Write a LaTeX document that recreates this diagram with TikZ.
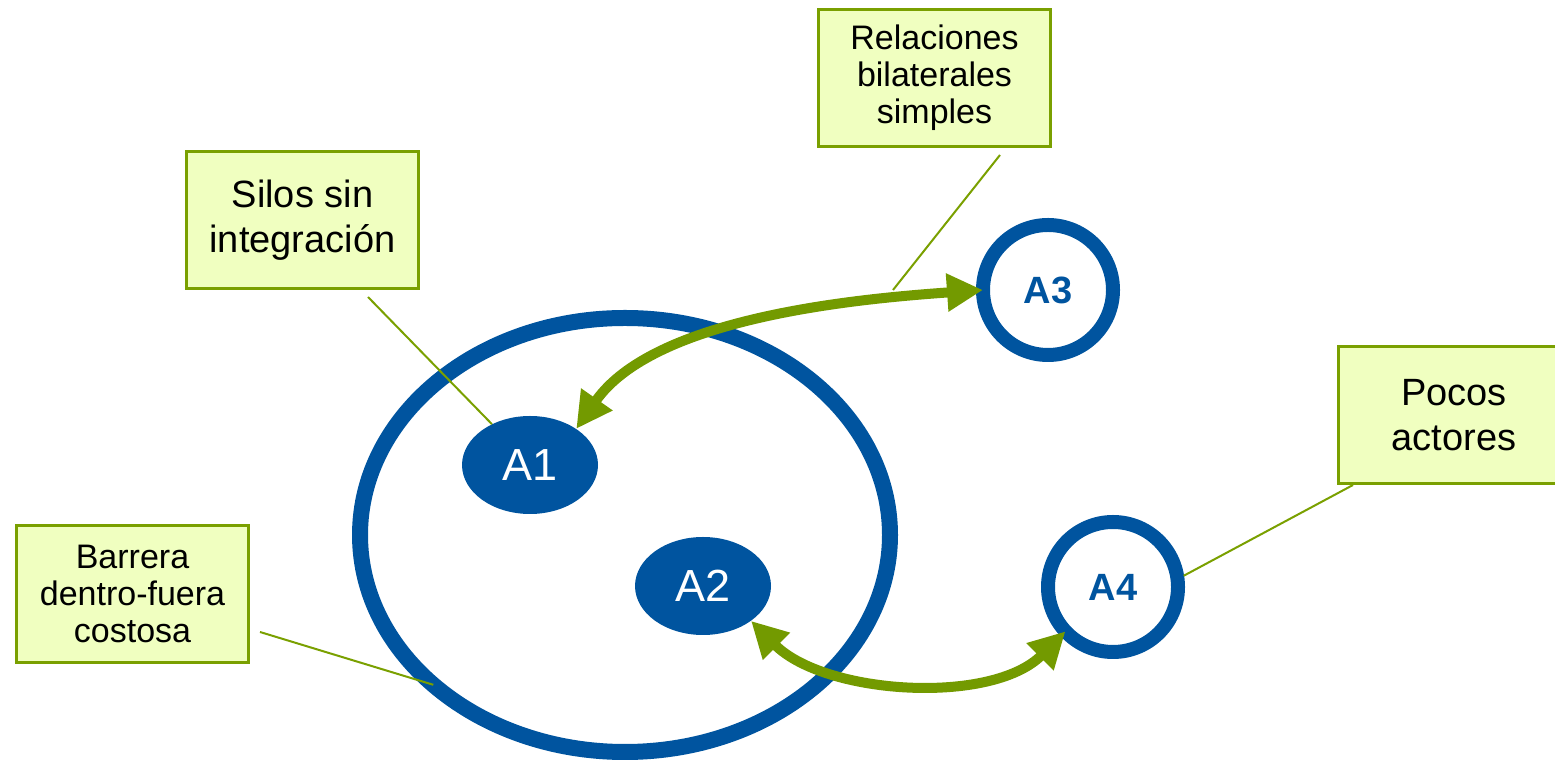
\documentclass[tikz,border=0pt]{standalone}
\usepackage{fontspec}
\setmainfont{Liberation Sans}
\usetikzlibrary{arrows.meta,shapes.geometric}
\definecolor{blueA}{RGB}{0,84,159}
\definecolor{arrowG}{RGB}{115,154,0}
\definecolor{lineG}{RGB}{122,160,0}
\definecolor{noteFill}{RGB}{240,255,192}
\begin{document}
\begin{tikzpicture}[x=1pt,y=1pt,
    note/.style={draw=lineG, fill=noteFill, line width=3pt, minimum width=232pt, minimum height=137pt, inner sep=0pt, align=center},
    bigfont/.style={font=\fontsize{38}{45}\selectfont},
    smallfont/.style={font=\fontsize{34}{37}\selectfont},
    actor/.style={ellipse, fill=blueA, text=white, minimum width=136pt, minimum height=98pt, inner sep=0pt, font=\fontsize{45}{50}\selectfont},
    outside/.style={circle, draw=blueA, line width=14pt, minimum size=130pt, inner sep=0pt, outer sep=0pt, text=blueA, font=\bfseries\fontsize{38}{40}\selectfont},
    callout/.style={draw=lineG, line width=2pt},
    biarrow/.style={draw=arrowG, line width=10pt, <->, >={Triangle[length=36pt,width=36pt]}}]
    \useasboundingbox (0,0) rectangle (1555,762);
    \node[ellipse, draw=blueA, line width=16pt, minimum width=530pt, minimum height=434pt, inner sep=0pt, outer sep=0pt] (barrier) at (625,227) {};
    \node[actor] (a1) at (530,297) {A1};
    \node[actor] (a2) at (703,176) {A2};
    \node[outside] (a3) at (1048,472) {A3};
    \node[outside] (a4) at (1113,175) {A4};
    \node[note, smallfont] (relaciones) at (934.5,684) {Relaciones\\bilaterales\\simples};
    \node[note, bigfont] (silos) at (302.5,541.5) {Silos sin\\integración};
    \node[note, bigfont] (pocos) at (1454,347) {Pocos\\actores};
    \node[note, smallfont] (barrera) at (132.5,168) {Barrera\\dentro-fuera\\costosa};
    \draw[biarrow] (a1.38) to[out=55, in=184, looseness=0.8] (a3.west);
    \draw[biarrow] (a2.-36) to[out=-45, in=225, looseness=0.85] (a4.223);
    \coordinate (silos-tip) at (368,465);
    \coordinate (relaciones-tip) at (1000,607);
    \coordinate (relaciones-end) at (893,472);
    \coordinate (pocos-tip) at (1353,277);
    \coordinate (barrera-tip) at (260,130);
    \draw[callout] (silos-tip) -- (a1.133);
    \draw[callout] (relaciones-tip) -- (relaciones-end);
    \draw[callout, shorten >=7pt] (pocos-tip) -- (a4.7);
    \draw[callout] (barrera-tip) -- (barrier.218);
\end{tikzpicture}
\end{document}
